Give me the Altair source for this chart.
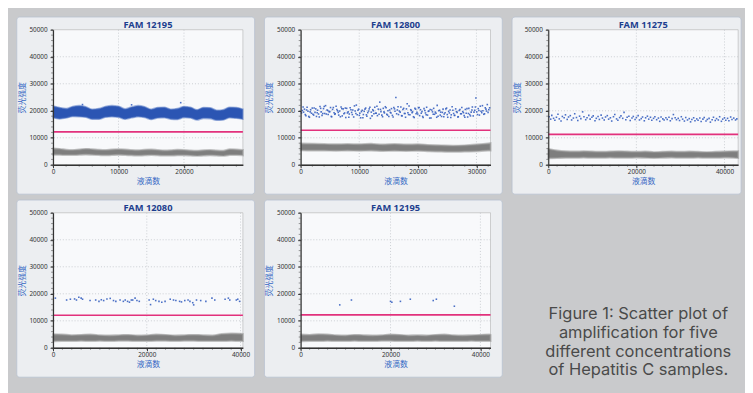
import altair as alt
import pandas as pd

# ---------------- data ----------------
TITLES = ["FAM 12195", "FAM 12800", "FAM 11275", "FAM 12080", "FAM 12195"]
THRESHOLDS = [12195, 12800, 11275, 12080, 12195]
X_MAX = [29000, 32400, 43100, 40500, 42250]
X_TICKS = [[0, 10000, 20000], [0, 10000, 20000, 30000], [0, 20000, 40000],
           [0, 20000, 40000], [0, 20000, 40000]]
Y_TICKS = [0, 10000, 20000, 30000, 40000, 50000]
Y_MINOR = list(range(0, 50001, 2000))
X_MINOR = [list(range(0, 29001, 2000)), list(range(0, 32401, 2000)),
           list(range(0, 43001, 2000)), list(range(0, 40501, 2000)),
           list(range(0, 42001, 2000))]

# panel 1 dense positive band (upper / lower edge)
P1_X = list(range(0, 29001, 1000))
P1_POS_HI = [21800, 21200, 20800, 21600, 21900, 21500, 20600, 20800, 21600, 21900,
             21700, 20700, 21400, 21900, 21500, 20600, 21200, 21300, 20600, 20800,
             21600, 21300, 20400, 21200, 21100, 20200, 20400, 21300, 21200, 20600]
P1_POS_LO = [17400, 17000, 17300, 17900, 17800, 17600, 16900, 16900, 17600, 17800,
             17600, 16900, 17400, 17800, 17500, 16800, 17300, 17400, 16900, 16800,
             17500, 17300, 16600, 17200, 17100, 16500, 16600, 17400, 17200, 16900]
P1_NEG_HI = [6000, 5900, 5600, 5500, 5700, 5900, 5800, 5600, 5500, 5700,
             5800, 5700, 5500, 5400, 5600, 5700, 5500, 5300, 5400, 5600,
             5500, 5300, 5200, 5400, 5500, 5300, 5200, 5800, 5700, 5500]
P1_NEG_LO = [3700, 3700, 3600, 3600, 3700, 3800, 3700, 3600, 3500, 3600,
             3700, 3600, 3500, 3400, 3500, 3600, 3500, 3400, 3400, 3500,
             3500, 3400, 3300, 3400, 3500, 3400, 3300, 3600, 3600, 3500]
P1_OUT_X = [4500, 12000, 19500]
P1_OUT_Y = [22300, 22200, 23000]

# panel 2
P2_NEG_X = [0, 2000, 4000, 6000, 8000, 10000, 12000, 14000, 16000, 18000, 20000,
            22000, 24000, 26000, 28000, 30000, 32000, 32400]
P2_NEG_HI = [7900, 7800, 7700, 7600, 7700, 7600, 7800, 7500, 7700, 7500, 7600,
             7300, 7200, 7100, 7200, 7500, 7900, 8000]
P2_NEG_LO = [5400, 5300, 5300, 5200, 5300, 5200, 5300, 5100, 5200, 5100, 5200,
             5000, 4900, 4800, 4900, 5000, 5300, 5300]
P2_POS_X = [300, 500, 650, 900, 1100, 1250, 1500, 1700, 1850, 2100, 2300, 2450, 2700, 2900,
            3050, 3300, 3500, 3650, 3900, 4100, 4250, 4500, 4700, 4850, 5100, 5300, 5450,
            5700, 5900, 6050, 6300, 6500, 6650, 6900, 7100, 7250, 7500, 7700, 7850, 8100,
            8300, 8450, 8700, 8900, 9050, 9300, 9500, 9650, 9900, 10100, 10250, 10500,
            10700, 10850, 11100, 11300, 11450, 11700, 11900, 12050, 12300, 12500, 12650,
            12900, 13100, 13250, 13500, 13700, 13850, 14100, 14300, 14450, 14700, 14900,
            15050, 15300, 15500, 15650, 15900, 16100, 16250, 16500, 16700, 16850, 17100,
            17300, 17450, 17700, 17900, 18050, 18300, 18500, 18650, 18900, 19100, 19250,
            19500, 19700, 19850, 20100, 20300, 20450, 20700, 20900, 21050, 21300, 21500,
            21650, 21900, 22100, 22250, 22500, 22700, 22850, 23100, 23300, 23450, 23700,
            23900, 24050, 24300, 24500, 24650, 24900, 25100, 25250, 25500, 25700, 25850,
            26100, 26300, 26450, 26700, 26900, 27050, 27300, 27500, 27650, 27900, 28100,
            28250, 28500, 28700, 28850, 29100, 29300, 29450, 29700, 29900, 30050, 30300,
            30500, 30650, 30900, 31100, 31250, 31500, 31700, 31850, 32100]
P2_POS_Y = [20100, 19500, 20600, 18200, 21300, 19800, 17600, 20400, 19100, 18700,
            21000, 19400, 17900, 20200, 18800, 21600, 19600, 18300, 20800, 19000,
            21900, 20300, 18600, 19700, 21200, 17800, 20500, 19300, 18900, 21700,
            20000, 18400, 19900, 21400, 18100, 20700, 19200, 17500, 20900, 19600,
            18800, 21100, 19400, 20300, 17700, 19900, 22100, 18500, 20600, 19100,
            17400, 20200, 18600, 19800, 21000, 18000, 19300, 20700, 17200, 19500,
            20400, 18900, 21300, 19100, 18200, 20600, 23200, 19700, 18400, 20900,
            19200, 21500, 18700, 20000, 17900, 19400, 20800, 18300, 21200, 19800,
            24900, 20300, 18600, 19900, 21400, 18100, 20500, 19000, 17600, 20700,
            19300, 21800, 18500, 20100, 19600, 17800, 20900, 18900, 19400, 21100,
            18200, 20400, 19700, 17500, 20800, 19200, 21300, 18400, 19900, 20500,
            17300, 19600, 20900, 18700, 19100, 22000, 18000, 20200, 19500, 17900,
            20600, 18800, 19300, 21000, 17600, 19800, 20300, 18500, 21500, 19000,
            18300, 20700, 19400, 17800, 20100, 18900, 21200, 19700, 18200, 20500,
            19100, 17700, 20900, 18600, 19500, 21400, 18100, 20200, 24700, 19600,
            20800, 18400, 21700, 19300, 20000, 18700, 21100, 19900, 22300, 20400]
P2_POS_B = [(150, 19200), (420, 21400), (780, 18600), (1020, 20300), (1380, 17900), (1620, 19600),
            (1980, 21000), (2220, 18400), (2580, 20700), (2820, 19300), (3180, 17700), (3420, 20900),
            (3780, 19000), (4020, 21600), (4380, 18800), (4620, 20100), (4980, 19700), (5220, 17900),
            (5580, 21200), (5820, 18700), (6180, 20500), (6420, 19400), (6780, 17800), (7020, 20800),
            (7380, 18900), (7620, 21000), (7980, 19200), (8220, 17600), (8580, 20400), (8820, 18600),
            (9180, 21800), (9420, 19000), (9780, 20200), (10020, 18300), (10380, 19700), (10620, 17400),
            (10980, 20600), (11220, 18500), (11580, 19900), (11820, 21300), (12180, 18100), (12420, 20000),
            (12780, 19100), (13020, 21700), (13380, 18700), (13620, 20500), (13980, 17800), (14220, 19600),
            (14580, 21100), (14820, 18400), (15180, 20300), (15420, 19200), (15780, 17700), (16020, 20700),
            (16380, 18900), (16620, 21500), (16980, 19500), (17220, 18200), (17580, 20900), (17820, 19000),
            (18180, 22600), (18420, 18600), (18780, 20400), (19020, 19300), (19380, 17500), (19620, 20600),
            (19980, 18800), (20220, 21200), (20580, 19100), (20820, 17900), (21180, 20100), (21420, 18500),
            (21780, 19800), (22020, 17300), (22380, 20300), (22620, 18700), (22980, 19500), (23220, 17600),
            (23580, 20000), (23820, 18400), (24180, 19400), (24420, 17800), (24780, 20700), (25020, 18600),
            (25380, 19200), (25620, 17500), (25980, 20200), (26220, 18300), (26580, 19700), (26820, 17700),
            (27180, 20500), (27420, 18900), (27780, 19300), (28020, 17600), (28380, 20800), (28620, 19000),
            (28980, 18100), (29220, 20300), (29580, 19500), (29820, 21400), (30180, 18600), (30420, 20100),
            (30780, 19800), (31020, 21900), (31380, 18900), (31620, 20600), (31980, 19400), (32250, 21100)]

# panel 3
P3_NEG_X = [0, 2000, 4000, 6000, 8000, 10000, 12000, 14000, 16000, 18000, 20000, 22000,
            24000, 26000, 28000, 30000, 32000, 34000, 36000, 38000, 40000, 42000, 43100]
P3_NEG_HI = [5900, 5300, 5000, 4900, 5000, 4900, 4800, 4900, 5000, 4900, 4800, 4900,
             4700, 4800, 4900, 4800, 4900, 4800, 4700, 4800, 4900, 5000, 5000]
P3_NEG_LO = [2400, 2500, 2600, 2600, 2700, 2600, 2600, 2700, 2600, 2600, 2700, 2600,
             2500, 2600, 2700, 2600, 2600, 2700, 2600, 2600, 2700, 2600, 2500]
P3_POS = [(200, 17800), (550, 16900), (800, 18300), (1200, 17200), (1500, 16500), (1850, 17600),
          (2200, 18700), (2500, 17000), (2900, 16200), (3200, 17900), (3600, 17400), (3900, 18500),
          (4300, 16800), (4600, 17700), (5000, 18200), (5300, 16600), (5700, 17300), (6000, 18900),
          (6400, 17500), (6700, 16400), (7100, 18000), (7400, 17100), (7800, 19600), (8100, 17800),
          (8500, 16700), (8800, 17400), (9200, 18300), (9500, 16900), (9900, 17600), (10200, 18100),
          (10600, 16300), (10900, 17200), (11300, 17900), (11600, 16800), (12000, 18400), (12300, 17300),
          (12700, 16600), (13000, 17700), (13400, 18200), (13700, 16900), (14100, 17400), (14400, 16200),
          (14800, 17800), (15100, 18600), (15500, 17000), (15800, 16500), (16200, 17500), (16500, 18100),
          (16900, 17200), (17200, 19400), (17600, 16700), (17900, 17600), (18300, 18000), (18600, 16400),
          (19000, 17300), (19300, 17900), (19700, 16800), (20000, 17500), (20400, 18200), (20700, 16600),
          (21100, 17100), (21400, 17700), (21800, 16300), (22100, 17400), (22500, 18000), (22800, 16900),
          (23200, 17600), (23500, 16500), (23900, 17200), (24200, 17800), (24600, 16700), (25000, 17300),
          (25300, 16100), (25600, 17700), (26000, 17000), (26300, 16600), (26700, 17400), (27000, 16800),
          (27400, 17600), (27700, 16300), (28100, 17100), (28400, 18600), (28800, 17400), (29100, 16700),
          (29500, 17200), (29800, 16400), (30200, 17800), (30500, 16900), (30900, 16200), (31200, 17500),
          (31600, 16600), (32000, 17100), (32300, 15900), (32600, 16800), (33000, 17400), (33300, 16300),
          (33700, 17000), (34000, 16500), (34400, 17300), (34700, 16000), (35100, 16900), (35400, 17500),
          (35800, 16200), (36100, 16800), (36500, 17200), (36800, 15800), (37200, 16700), (37500, 17600),
          (37900, 16400), (38200, 17100), (38600, 16600), (38900, 17800), (39300, 16100), (39600, 16900),
          (40000, 17400), (40300, 16500), (40700, 17200), (41000, 16300), (41400, 17700), (41700, 16800),
          (42100, 17300), (42500, 16600), (42800, 17000)]

# panel 4
P4_NEG_X = [0, 2000, 4000, 6000, 8000, 10000, 12000, 14000, 16000, 18000, 20000,
            22000, 24000, 26000, 28000, 30000, 32000, 34000, 36000, 38000, 40000, 40500]
P4_NEG_HI = [5000, 4900, 4700, 4800, 4900, 4700, 4600, 4700, 4800, 4600, 4700,
             4900, 4800, 4600, 4700, 4800, 4700, 4600, 5100, 5300, 5200, 5100]
P4_NEG_LO = [2400, 2500, 2500, 2600, 2500, 2600, 2500, 2600, 2600, 2500, 2500,
             2600, 2600, 2500, 2600, 2600, 2500, 2500, 2500, 2600, 2500, 2500]
P4_POS = [(500, 18400), (2900, 17700), (3700, 18000), (4600, 18100), (5000, 17700), (5500, 18700),
          (6000, 18400), (6300, 18000), (7900, 17500), (9100, 17700), (9800, 17200), (10300, 17800),
          (10800, 17500), (11500, 18100), (12200, 18300), (12900, 17500), (13400, 17200), (14300, 17700),
          (15000, 17200), (15400, 17700), (15900, 17200), (16300, 16900), (16700, 17700), (17000, 17700),
          (17500, 18400), (17900, 17500), (18400, 17200), (20500, 17700), (20800, 16000), (21400, 18000),
          (21900, 17500), (22600, 17200), (23200, 16900), (23900, 17200), (25000, 18000), (25700, 17700),
          (26200, 17500), (27000, 17200), (27400, 17000), (28100, 17500), (28800, 17700), (29200, 17200),
          (29800, 16700), (30000, 15900), (30600, 17700), (31500, 17500), (32600, 17200), (33900, 18400),
          (34500, 17700), (36700, 18000), (37400, 18400), (37700, 17700), (39100, 17700), (39400, 18000),
          (39800, 17200)]

# panel 5
P5_NEG_X = [0, 2000, 4000, 6000, 8000, 10000, 12000, 14000, 16000, 18000, 20000, 22000,
            24000, 26000, 28000, 30000, 32000, 34000, 36000, 38000, 40000, 42000, 42250]
P5_NEG_HI = [4900, 4800, 5000, 4900, 4700, 4600, 4800, 4700, 4600, 4700, 4900, 4800,
             4600, 4700, 4600, 4800, 4900, 4700, 4600, 4700, 4800, 4900, 4800]
P5_NEG_LO = [2400, 2500, 2500, 2600, 2500, 2500, 2600, 2500, 2500, 2600, 2600, 2500,
             2500, 2600, 2500, 2600, 2500, 2500, 2500, 2600, 2500, 2500, 2500]
P5_POS = [(8700, 15900), (11300, 17700), (20000, 17200), (20300, 16900), (22200, 17200),
          (24400, 18000), (29500, 17500), (30200, 18000), (34200, 15400)]

CAPTION = ["Figure 1: Scatter plot of", "amplification for five",
           "different concentrations", "of Hepatitis C samples."]

# ---------------- styling ----------------
BG = "#c9cacc"
BOX = "#eceef1"
BOX_STROKE = "#b7c1d1"
PLOT_BG = "#f8f9fb"
GRID = "#bfc3c8"
BLUE = "#2b55b3"
DOT = "#3760c0"
BLUE_HALO = "#5a7cc6"
GRAY = "#7e7e7e"
GRAY_HALO = "#9b9b9b"
PINK = "#e2317c"
TITLE_C = "#1d3e8e"
AXT_C = "#3568c4"
FONT = "Noto Sans"

W, H = 194, 138


def panel(i, neg, pos_band=None, pos_pts=None, box_right=12, caption=False):
    xs = alt.Scale(domain=[0, X_MAX[i]], nice=False, zero=False)
    ys = alt.Scale(domain=[0, 50000], nice=False, zero=False)
    one = pd.DataFrame({"k": [0]})
    xaxis = alt.Axis(values=X_TICKS[i], format="d", labelFontSize=6.5, labelColor="#333",
                     labelFont=FONT, tickSize=3, tickColor="#333", domainColor="#333",
                     domainWidth=1.6, grid=False, zindex=1, labelPadding=1, labelFlush=False,
                     title="液滴数", titleColor=AXT_C, titleFontSize=8, titleFontWeight="normal",
                     titleFont="Noto Sans CJK SC", titlePadding=2.5)
    yaxis = alt.Axis(values=Y_TICKS, format="d", labelFontSize=6.5, labelColor="#333",
                     labelFont=FONT, tickSize=3, tickColor="#333", domainColor="#333",
                     domainWidth=1.2, grid=False, zindex=1, labelPadding=3, labelFlush=False,
                     title="荧光强度", titleColor=AXT_C, titleFontSize=8, titleFontWeight="normal",
                     titleFont="Noto Sans CJK SC", titlePadding=3)

    def X(f):
        return alt.X(f, scale=xs, axis=xaxis)

    def Y(f):
        return alt.Y(f, scale=ys, axis=yaxis)

    L = []
    L.append(alt.Chart(one).mark_rect(fill=BOX, stroke=BOX_STROKE, strokeWidth=0.8,
                                      cornerRadius=3, clip=False).encode(
        x=alt.value(-37), x2=alt.value(W + box_right), y=alt.value(-13), y2=alt.value(H + 30)))
    L.append(alt.Chart(one).mark_rect(fill=PLOT_BG, stroke="#b0b0b0", strokeWidth=0.6).encode(
        x=alt.value(0), x2=alt.value(W), y=alt.value(0), y2=alt.value(H)))
    gx = pd.DataFrame({"v": [t for t in X_TICKS[i] if t > 0]})
    L.append(alt.Chart(gx).mark_rule(color=GRID, strokeDash=[1, 2], strokeWidth=0.8).encode(
        x=X("v:Q")))
    gy = pd.DataFrame({"v": Y_TICKS[1:-1]})
    L.append(alt.Chart(gy).mark_rule(color=GRID, strokeDash=[1, 2], strokeWidth=0.8).encode(
        y=Y("v:Q")))
    ndf = pd.DataFrame({"x": neg[0], "hi": neg[1], "lo": neg[2]})
    L.append(alt.Chart(ndf).mark_area(fill=GRAY, stroke=GRAY_HALO, strokeWidth=2,
                                      strokeOpacity=0.6, interpolate="monotone").encode(
        x=X("x:Q"), y=Y("hi:Q"), y2="lo:Q"))
    if pos_band is not None:
        bdf = pd.DataFrame({"x": pos_band[0], "hi": pos_band[1], "lo": pos_band[2]})
        L.append(alt.Chart(bdf).mark_area(fill=BLUE, stroke=BLUE_HALO, strokeWidth=1.6,
                                          strokeOpacity=0.55, interpolate="monotone").encode(
            x=X("x:Q"), y=Y("hi:Q"), y2="lo:Q"))
    if pos_pts is not None:
        pdf = pd.DataFrame({"x": [p[0] for p in pos_pts], "y": [p[1] for p in pos_pts]})
        L.append(alt.Chart(pdf).mark_square(size=2.6, color=DOT, opacity=0.9).encode(
            x=X("x:Q"), y=Y("y:Q")))
    tdf = pd.DataFrame({"t": [THRESHOLDS[i]]})
    L.append(alt.Chart(tdf).mark_rule(color=PINK, strokeWidth=1.6).encode(y=Y("t:Q")))
    ym = pd.DataFrame({"v": Y_MINOR})
    L.append(alt.Chart(ym).mark_rule(color="#555", strokeWidth=0.6).encode(
        y=Y("v:Q"), x=alt.value(-2), x2=alt.value(0)))
    xm = pd.DataFrame({"v": X_MINOR[i]})
    L.append(alt.Chart(xm).mark_rule(color="#555", strokeWidth=0.6).encode(
        x=X("v:Q"), y=alt.value(H), y2=alt.value(H + 2)))
    L.append(alt.Chart(one).mark_text(text=TITLES[i], font=FONT, fontWeight="bold", fontSize=9.5,
                                      color=TITLE_C, baseline="middle", align="center",
                                      clip=False).encode(
        x=alt.value(W / 2), y=alt.value(-4.5)))
    if caption:
        L.append(alt.Chart(one).mark_text(text=CAPTION, font="Inter", fontSize=16.8,
                                          lineHeight=19, color="#4a4a4a", baseline="top",
                                          align="center", clip=False).encode(
            x=alt.value(345), y=alt.value(96)))
    return alt.layer(*L).properties(width=W, height=H)


p1 = panel(0, (P1_X, P1_NEG_HI, P1_NEG_LO), pos_band=(P1_X, P1_POS_HI, P1_POS_LO),
           pos_pts=list(zip(P1_OUT_X, P1_OUT_Y)))
p2 = panel(1, (P2_NEG_X, P2_NEG_HI, P2_NEG_LO),
           pos_pts=list(zip(P2_POS_X, P2_POS_Y)) + P2_POS_B)
p3 = panel(2, (P3_NEG_X, P3_NEG_HI, P3_NEG_LO), pos_pts=P3_POS, box_right=3)
p4 = panel(3, (P4_NEG_X, P4_NEG_HI, P4_NEG_LO), pos_pts=P4_POS)
p5 = panel(4, (P5_NEG_X, P5_NEG_HI, P5_NEG_LO), pos_pts=P5_POS, caption=True)

chart = alt.concat(p1, p2, p3, p4, p5, columns=3, spacing={"row": 49, "column": 59},
                   bounds="flush").properties(
    background=BG, padding={"left": 8, "top": 4, "right": 3, "bottom": 13}
).configure_view(stroke=None)

chart.save("out.html", embed_options={"renderer": "svg", "actions": False})
